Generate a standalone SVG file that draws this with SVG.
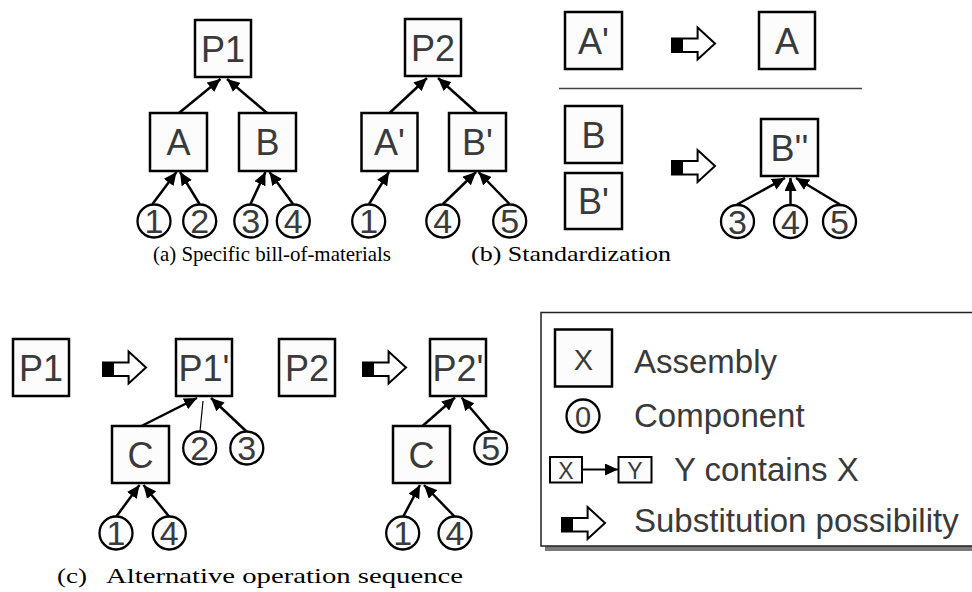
<svg xmlns="http://www.w3.org/2000/svg" width="972" height="592" viewBox="0 0 972 592">
<style>
.box{fill:#fcfcfc;stroke:#000;stroke-width:2.5}
.cir{fill:#fcfcfc;stroke:#000;stroke-width:2.3}
.lbl{font-family:"Liberation Sans",Arial,sans-serif;font-size:36px;fill:#3a3a3a;text-anchor:middle}
.dig{font-family:"Liberation Sans",Arial,sans-serif;font-size:34px;fill:#3a3a3a;text-anchor:middle}
.leg{font-family:"Liberation Sans",Arial,sans-serif;font-size:33px;fill:#3a3a3a}
.cap{font-family:"Liberation Serif","Times New Roman",serif;font-size:21.5px;fill:#000}
.con{stroke:#000;stroke-width:2.5;fill:none;marker-end:url(#ah)}
.thin{stroke:#000;stroke-width:1.2;fill:none}
</style>
<defs>
<marker id="ah" markerUnits="userSpaceOnUse" markerWidth="14" markerHeight="12" refX="13" refY="6" orient="auto">
<path d="M0,0 L13,6 L0,12 z" fill="#000"/>
</marker>
<g id="subst">
<path d="M0,11 H25.6 V0 L43,16 L25.6,32 V24.4 H0 Z" fill="#fff" stroke="#000" stroke-width="2"/>
<rect x="0" y="11" width="11" height="13.4" fill="#000"/>
</g>
</defs>

<!-- connectors -->
<g id="connectors">
<line class="con" x1="179" y1="113" x2="220.5" y2="79"/>
<line class="con" x1="267" y1="113" x2="227" y2="79"/>
<line class="con" x1="152.5" y1="204" x2="176.5" y2="172"/>
<line class="con" x1="199.5" y1="204" x2="180" y2="172"/>
<line class="con" x1="250.5" y1="204" x2="265.5" y2="172"/>
<line class="con" x1="293" y1="204" x2="269.5" y2="172"/>
<line class="con" x1="389.5" y1="113" x2="427" y2="78"/>
<line class="con" x1="477" y1="113" x2="438" y2="78"/>
<line class="con" x1="369" y1="204" x2="389" y2="172"/>
<line class="con" x1="443" y1="204" x2="476" y2="172"/>
<line class="con" x1="509.5" y1="204" x2="478.5" y2="172"/>
<line class="con" x1="737" y1="204.5" x2="785" y2="178"/>
<line class="con" x1="790.5" y1="205" x2="790.5" y2="178"/>
<line class="con" x1="840" y1="204.5" x2="796" y2="178"/>
<line class="con" x1="141.5" y1="426" x2="197" y2="398"/>
<line class="thin" x1="200" y1="431.5" x2="203" y2="401"/>
<line class="con" x1="246.5" y1="431.5" x2="211" y2="398"/>
<line class="con" x1="116" y1="517" x2="139.5" y2="485"/>
<line class="con" x1="169.5" y1="517" x2="143.5" y2="485"/>
<line class="con" x1="422.5" y1="426" x2="455" y2="397.5"/>
<line class="con" x1="490.5" y1="431.5" x2="461.5" y2="397.5"/>
<line class="con" x1="403" y1="517" x2="420" y2="485"/>
<line class="con" x1="455" y1="517" x2="424" y2="485"/>
</g>

<!-- (a) Specific bill-of-materials -->
<g id="a-P1"><rect class="box" x="195" y="20" width="56" height="57"/><text class="lbl" x="223" y="61.5">P1</text></g>
<g id="a-A"><rect class="box" x="150" y="113" width="57" height="58"/><text class="lbl" x="178.5" y="155">A</text></g>
<g id="a-B"><rect class="box" x="239" y="113" width="57" height="58"/><text class="lbl" x="267.5" y="155">B</text></g>
<g id="a-c1"><circle class="cir" cx="154" cy="221" r="16.5"/><text class="dig" x="154" y="233.2">1</text></g>
<g id="a-c2"><circle class="cir" cx="199.7" cy="221" r="16.5"/><text class="dig" x="199.7" y="233.2">2</text></g>
<g id="a-c3"><circle class="cir" cx="250.8" cy="221" r="16.5"/><text class="dig" x="250.8" y="233.2">3</text></g>
<g id="a-c4"><circle class="cir" cx="293.3" cy="221" r="16.5"/><text class="dig" x="293.3" y="233.2">4</text></g>

<g id="a-P2"><rect class="box" x="405" y="19" width="56" height="57"/><text class="lbl" x="433" y="60.5">P2</text></g>
<g id="a-A2"><rect class="box" x="361.5" y="113" width="56" height="58"/><text class="lbl" x="389.5" y="155">A'</text></g>
<g id="a-B2"><rect class="box" x="449" y="113" width="57" height="58"/><text class="lbl" x="477.5" y="155">B'</text></g>
<g id="a-c1b"><circle class="cir" cx="368.7" cy="221" r="16.5"/><text class="dig" x="368.7" y="233.2">1</text></g>
<g id="a-c4b"><circle class="cir" cx="442.8" cy="221" r="16.5"/><text class="dig" x="442.8" y="233.2">4</text></g>
<g id="a-c5b"><circle class="cir" cx="509.7" cy="221" r="16.5"/><text class="dig" x="509.7" y="233.2">5</text></g>

<!-- (b) Standardization -->
<g id="b-A2"><rect class="box" x="565" y="12" width="57" height="57"/><text class="lbl" x="593.5" y="53.5">A'</text></g>
<g id="b-arrow1"><use href="#subst" x="672" y="27.5"/></g>
<g id="b-A"><rect class="box" x="759" y="12" width="56" height="57"/><text class="lbl" x="787" y="53.5">A</text></g>
<line x1="559" y1="88.5" x2="862" y2="88.5" stroke="#444" stroke-width="1.5"/>
<g id="b-B"><rect class="box" x="565" y="106" width="57" height="57"/><text class="lbl" x="593.5" y="147.5">B</text></g>
<g id="b-B2"><rect class="box" x="565" y="173" width="57" height="56"/><text class="lbl" x="593.5" y="214">B'</text></g>
<g id="b-arrow2"><use href="#subst" x="672" y="150"/></g>
<g id="b-B3"><rect class="box" x="761" y="119" width="57" height="57"/><text class="lbl" x="789.5" y="160.5">B''</text></g>
<g id="b-c3"><circle class="cir" cx="737.5" cy="221.5" r="16.5"/><text class="dig" x="737.5" y="233.7">3</text></g>
<g id="b-c4"><circle class="cir" cx="790.5" cy="221.5" r="16.5"/><text class="dig" x="790.5" y="233.7">4</text></g>
<g id="b-c5"><circle class="cir" cx="839.5" cy="221.5" r="16.5"/><text class="dig" x="839.5" y="233.7">5</text></g>

<text class="cap" x="153" y="261" textLength="238" lengthAdjust="spacingAndGlyphs">(a) Specific bill-of-materials</text>
<text class="cap" x="471" y="261" textLength="200" lengthAdjust="spacingAndGlyphs">(b) Standardization</text>

<!-- (c) Alternative operation sequence -->
<g id="c-P1"><rect class="box" x="13" y="339" width="56" height="57"/><text class="lbl" x="41" y="380.5">P1</text></g>
<g id="c-arrow1"><use href="#subst" x="103" y="351.5"/></g>
<g id="c-P1p"><rect class="box" x="176" y="339" width="56" height="57"/><text class="lbl" x="204" y="380.5">P1'</text></g>
<g id="c-C1"><rect class="box" x="112" y="426" width="57" height="57"/><text class="lbl" x="140.5" y="467.5">C</text></g>
<g id="c-c2"><circle class="cir" cx="199.7" cy="448" r="16.5"/><text class="dig" x="199.7" y="460.2">2</text></g>
<g id="c-c3"><circle class="cir" cx="246.8" cy="448" r="16.5"/><text class="dig" x="246.8" y="460.2">3</text></g>
<g id="c-c1"><circle class="cir" cx="116" cy="533" r="16.5"/><text class="dig" x="116" y="545.2">1</text></g>
<g id="c-c4"><circle class="cir" cx="169.3" cy="533" r="16.5"/><text class="dig" x="169.3" y="545.2">4</text></g>

<g id="c-P2"><rect class="box" x="279" y="339" width="56" height="57"/><text class="lbl" x="307" y="380.5">P2</text></g>
<g id="c-arrow2"><use href="#subst" x="363" y="351.5"/></g>
<g id="c-P2p"><rect class="box" x="430" y="339" width="56" height="57"/><text class="lbl" x="458" y="380.5">P2'</text></g>
<g id="c-C2"><rect class="box" x="393" y="426" width="57" height="57"/><text class="lbl" x="421.5" y="467.5">C</text></g>
<g id="c-c5"><circle class="cir" cx="490.7" cy="448" r="16.5"/><text class="dig" x="490.7" y="460.2">5</text></g>
<g id="c-c1b"><circle class="cir" cx="402.7" cy="533" r="16.5"/><text class="dig" x="402.7" y="545.2">1</text></g>
<g id="c-c4b"><circle class="cir" cx="455" cy="533" r="16.5"/><text class="dig" x="455" y="545.2">4</text></g>

<text class="cap" x="57" y="583" textLength="30" lengthAdjust="spacingAndGlyphs">(c)</text>
<text class="cap" x="106" y="583" textLength="357" lengthAdjust="spacingAndGlyphs">Alternative operation sequence</text>

<!-- legend -->
<g id="legend">
<rect x="545" y="317" width="440" height="234" fill="#7a7a7a"/>
<rect x="541" y="312.5" width="440" height="233.5" fill="#fff" stroke="#222" stroke-width="1.5"/>
<rect class="box" x="555" y="329.5" width="57" height="57"/>
<text class="lbl" x="583.5" y="370" style="font-size:29px">X</text>
<text class="leg" x="634" y="373">Assembly</text>
<circle class="cir" cx="583" cy="416" r="16.5"/>
<text class="dig" x="583" y="426.5" style="font-size:29px">0</text>
<text class="leg" x="634" y="427">Component</text>
<rect x="550" y="457" width="32" height="25.5" fill="#fcfcfc" stroke="#000" stroke-width="2"/>
<text class="lbl" x="566" y="479" style="font-size:23px">X</text>
<line x1="582" y1="469.5" x2="618" y2="469.5" stroke="#000" stroke-width="2.2" marker-end="url(#ah)"/>
<rect x="618.5" y="457" width="33" height="25.5" fill="#fcfcfc" stroke="#000" stroke-width="2"/>
<text class="lbl" x="635" y="479" style="font-size:23px">Y</text>
<text class="leg" x="674" y="480.5">Y contains X</text>
<use href="#subst" x="562" y="507"/>
<text class="leg" x="634" y="532">Substitution possibility</text>
</g>
</svg>
